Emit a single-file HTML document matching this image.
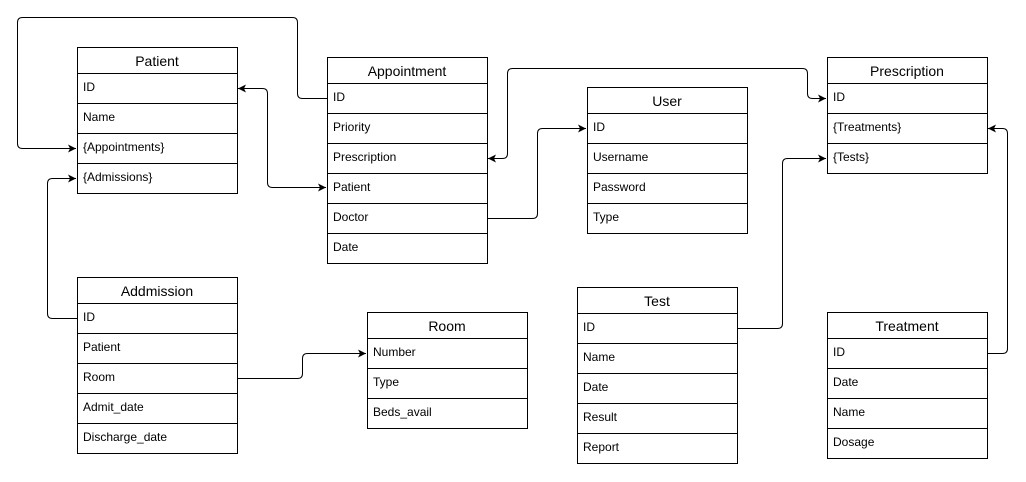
<!DOCTYPE html>
<html><head><meta charset="utf-8"><style>
html,body{margin:0;padding:0;background:#fff;}
svg text{font-family:"Liberation Sans",Arial,sans-serif;fill:#000;}
.h{font-size:14px;text-anchor:middle;}
.r{font-size:12px;}
</style></head><body>
<svg width="1026" height="477" viewBox="0 0 1026 477" xmlns="http://www.w3.org/2000/svg">
<defs>
<marker id="a" markerWidth="10" markerHeight="10" refX="8" refY="5" orient="auto-start-reverse" markerUnits="userSpaceOnUse">
<path d="M0,1 L8,5 L0,9 L2,5 Z" fill="#000"/>
</marker>
</defs>
<g id="tables"></g>
<g fill="none" stroke="#000" stroke-width="1">
<path d="M327.5,98.5 H302.5 Q297.5,98.5 297.5,93.5 V22.5 Q297.5,17.5 292.5,17.5 H22.5 Q17.5,17.5 17.5,22.5 V143.5 Q17.5,148.5 22.5,148.5 H76" marker-end="url(#a)"/>
<path d="M238,88.5 H262.5 Q267.5,88.5 267.5,93.5 V182.5 Q267.5,187.5 272.5,187.5 H326" marker-start="url(#a)" marker-end="url(#a)"/>
<path d="M77.5,318.5 H52.5 Q47.5,318.5 47.5,313.5 V183.5 Q47.5,178.5 52.5,178.5 H76" marker-end="url(#a)"/>
<path d="M487.5,218.5 H532.5 Q537.5,218.5 537.5,213.5 V133.5 Q537.5,128.5 542.5,128.5 H586" marker-end="url(#a)"/>
<path d="M488,158.5 H502.5 Q507.5,158.5 507.5,153.5 V73.5 Q507.5,68.5 512.5,68.5 H802.5 Q807.5,68.5 807.5,73.5 V93.5 Q807.5,98.5 812.5,98.5 H826" marker-start="url(#a)" marker-end="url(#a)"/>
<path d="M737.5,328.5 H777.5 Q782.5,328.5 782.5,323.5 V163.5 Q782.5,158.5 787.5,158.5 H826" marker-end="url(#a)"/>
<path d="M987.5,353.5 H1002.5 Q1007.5,353.5 1007.5,348.5 V133.5 Q1007.5,128.5 1002.5,128.5 H988" marker-end="url(#a)"/>
<path d="M237.5,378.5 H297.5 Q302.5,378.5 302.5,373.5 V358.5 Q302.5,353.5 307.5,353.5 H366" marker-end="url(#a)"/>
</g>
</svg>
<script>
const T=[
["Patient",77,47,["ID","Name","{Appointments}","{Admissions}"]],
["Appointment",327,57,["ID","Priority","Prescription","Patient","Doctor","Date"]],
["User",587,87,["ID","Username","Password","Type"]],
["Prescription",827,57,["ID","{Treatments}","{Tests}"]],
["Addmission",77,277,["ID","Patient","Room","Admit_date","Discharge_date"]],
["Room",367,312,["Number","Type","Beds_avail"]],
["Test",577,287,["ID","Name","Date","Result","Report"]],
["Treatment",827,312,["ID","Date","Name","Dosage"]]
];
let s="";
for(const [n,x,y,rows] of T){
const h=26+rows.length*30;
s+=`<rect x="${x+.5}" y="${y+.5}" width="160" height="${h}" fill="#fff" stroke="#000"/>`;
s+=`<text class="h" x="${x+80}" y="${y+19}">${n}</text>`;
rows.forEach((r,i)=>{const ry=y+26+i*30;
s+=`<line x1="${x}" y1="${ry+.5}" x2="${x+161}" y2="${ry+.5}" stroke="#000"/>`;
s+=`<text class="r" x="${x+6}" y="${ry+18}">${r}</text>`;});
}
document.getElementById("tables").innerHTML=s;
</script>
</body></html>
